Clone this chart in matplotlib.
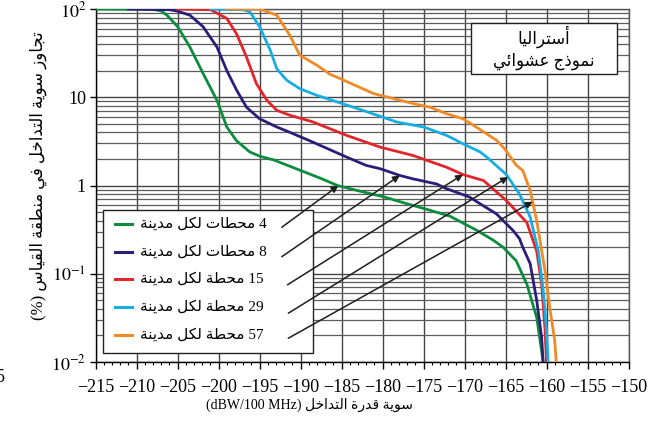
import re
import numpy as np
import matplotlib
matplotlib.use('Agg')
import matplotlib.pyplot as plt
from matplotlib.patches import Rectangle
from matplotlib.ticker import FixedLocator, FixedFormatter, MultipleLocator, LogLocator, NullFormatter

plt.rcParams['font.family'] = ['Liberation Serif', 'DejaVu Sans']
plt.rcParams['mathtext.fontset'] = 'stix'

# interference curves, one per number of stations in a city
x_4 = [-215, -208, -207, -206.3, -205, -203.5, -201.9, -200.2, -199, -197.8, -196.2, -195, -193.3,
       -191.3, -189.5, -187.5, -185.5, -182.5, -180, -177.5, -175, -171.8, -168.5, -166.5, -165.3,
       -163.7, -162.4, -161.2, -160.6, -160.4]
y_4 = [100, 99, 95, 85, 63, 37, 18.6, 9.2, 4.6, 3.2, 2.4, 2.15, 1.95, 1.65, 1.42, 1.2, 1.0, 0.85,
       0.75, 0.64, 0.55, 0.45, 0.31, 0.24, 0.2, 0.14, 0.076, 0.032, 0.0133, 0.0095]

x_8 = [-211, -206, -205.1, -203.5, -201.9, -200.2, -199, -197.8, -196.6, -195, -192.9, -191.3,
       -188.5, -184.4, -182, -180.3, -177.9, -176.3, -173.4, -172.2, -169.4, -168.1, -166.1,
       -164.1, -163.3, -162.9, -162, -161.2, -160.6, -160.4]
y_8 = [100, 98, 95, 85, 63, 37, 20, 12, 7.7, 5.7, 4.6, 4.0, 3.1, 2.1, 1.69, 1.55, 1.30, 1.19, 1.04,
       0.92, 0.74, 0.62, 0.476, 0.31, 0.25, 0.2, 0.13, 0.05, 0.019, 0.0095]

x_15 = [-205, -201, -200.7, -199, -197.8, -196.6, -195.4, -194.1, -192.9, -191.3, -188.5, -184.4,
        -180.3, -176.3, -172.2, -170.2, -167.7, -164.9, -162.4, -161.2, -160.6, -160.2, -160.0]
y_15 = [100, 98, 95, 78, 52, 28.5, 14.3, 9.2, 7.1, 6.25, 5.25, 3.7, 2.72, 2.19, 1.61, 1.33, 1.14,
        0.675, 0.38, 0.18, 0.076, 0.0245, 0.0095]

x_29 = [-201, -197, -196.2, -195, -193.7, -192.9, -191.7, -190.1, -188, -186.4, -182.4, -178.3,
        -175, -172.2, -170.2, -168.1, -167.3, -164.9, -163.3, -162, -161, -160.4, -160, -159.8]
y_29 = [100, 98, 93, 63, 34, 21, 15.6, 12.5, 10.5, 9.4, 7.1, 5.25, 4.6, 3.7, 2.97, 2.4, 2.1, 1.33,
        0.8, 0.44, 0.18, 0.064, 0.0226, 0.0095]

x_57 = [-199, -195, -194.6, -192.9, -191.3, -190.1, -188, -186.4, -185.2, -181.1, -176.3, -174.2,
        -172.2, -170.2, -168.1, -166.1, -165.1, -163.7, -162.9, -162, -161.2, -160.2, -159.6,
        -159, -158.8]
y_57 = [100, 99, 97, 85, 50, 30, 23, 18.2, 16.3, 11, 8.5, 7.7, 6.5, 5.7, 4.3, 3.25, 2.6, 1.7, 1.48,
        0.88, 0.4, 0.11, 0.041, 0.0174, 0.0095]

series_x = [x_4, x_8, x_15, x_29, x_57]
series_y = [y_4, y_8, y_15, y_29, y_57]
colors = ['#0b8c3e', '#2b1d78', '#e2252b', '#16ade2', '#f08a26']
labels = ['4 محطات لكل مدينة', '8 محطات لكل مدينة', '15 محطة لكل مدينة',
          '29 محطة لكل مدينة', '57 محطة لكل مدينة']

# arrows from the legend rows to the curves
arrow_tail_x = [-192.3, -192.3, -191.6, -191.5, -191.5]
arrow_tail_y = [0.336, 0.156, 0.075, 0.0357, 0.0186]
arrow_head_x = [-185.4, -177.9, -170.2, -164.7, -161.7]

x_ticks = list(range(-215, -149, 5))
y_ticks = [0.01, 0.1, 1, 10, 100]
y_tick_labels = ['$10^{-2}$', '$10^{-1}$', '1', '10', '$10^{2}$']

title_lines = ['أستراليا', 'نموذج عشوائي']
x_title = 'سوية قدرة التداخل (dBW/100 MHz)'
y_title = 'تجاوز سوية التداخل في منطقة القياس (%)'

# --- arabic shaping (presentation forms) and right-to-left ordering ---
ISOLATED = {'ا': 0xFE8D, 'أ': 0xFE83, 'ئ': 0xFE89, 'ت': 0xFE95, 'ة': 0xFE93, 'ج': 0xFE9D,
            'ح': 0xFEA1, 'خ': 0xFEA5, 'د': 0xFEA9, 'ذ': 0xFEAB, 'ر': 0xFEAD, 'ز': 0xFEAF,
            'س': 0xFEB1, 'ش': 0xFEB5, 'ط': 0xFEC1, 'ع': 0xFEC9, 'ف': 0xFED1, 'ق': 0xFED5,
            'ك': 0xFED9, 'ل': 0xFEDD, 'م': 0xFEE1, 'ن': 0xFEE5, 'و': 0xFEED, 'ي': 0xFEF1}
RIGHT_JOINING = set('اأدذرزوة')


def shape(text):
    out = []
    for i, ch in enumerate(text):
        if ch not in ISOLATED:
            out.append(ch)
            continue
        prev = text[i - 1] if i > 0 else ''
        nxt = text[i + 1] if i + 1 < len(text) else ''
        join_prev = prev in ISOLATED and prev not in RIGHT_JOINING
        join_next = nxt in ISOLATED and ch not in RIGHT_JOINING
        if join_prev and join_next:
            off = 3
        elif join_prev:
            off = 1
        elif join_next:
            off = 2
        else:
            off = 0
        out.append(chr(ISOLATED[ch] + off))
    return ''.join(out)


AR = '\u0600-\u06FF'
TOKEN = re.compile('[%s]+(?:\\s+[%s]+)*|\\s+|[^\\s%s]+(?:\\s+[^\\s%s]+)*' % (AR, AR, AR, AR))


def rtl(text):
    parts = []
    for tok in reversed(TOKEN.findall(text)):
        if re.match('[%s]' % AR, tok):
            parts.append(shape(tok)[::-1])
        else:
            parts.append(tok)
    return ''.join(parts)


AR_FONT = ['Liberation Serif', 'DejaVu Sans']

###############################################################################

fig = plt.figure(figsize=(6.63, 4.24), dpi=100)
ax = fig.add_axes([0.1443, 0.1462, 0.8037, 0.8326])

for xs, ys, c in zip(series_x, series_y, colors):
    ax.plot(xs, ys, color=c, lw=2.0, zorder=3, solid_joinstyle='round')

ax.set_yscale('log')
ax.set_xlim(-215, -150)
ax.set_ylim(0.01, 100)

ax.xaxis.set_major_locator(FixedLocator(x_ticks))
ax.xaxis.set_minor_locator(MultipleLocator(1))
ax.yaxis.set_major_locator(FixedLocator(y_ticks))
ax.yaxis.set_major_formatter(FixedFormatter(y_tick_labels))
ax.yaxis.set_minor_locator(LogLocator(base=10, subs=np.arange(2, 10)))
ax.yaxis.set_minor_formatter(NullFormatter())

ax.tick_params(axis='x', which='major', direction='out', length=5, width=1, pad=7, labelsize=13)
ax.tick_params(axis='x', which='minor', direction='out', length=2.5, width=0.8)
ax.tick_params(axis='y', which='major', direction='out', length=4, width=1, pad=3, labelsize=13)
ax.tick_params(axis='y', which='minor', length=0)

ax.xaxis.grid(True, which='major', color='#454545', lw=1.0)
ax.yaxis.grid(True, which='major', color='#454545', lw=1.0)
ax.yaxis.grid(True, which='minor', color='#5c5c5c', lw=0.9)
ax.set_axisbelow(True)

for side in ['left', 'bottom']:
    ax.spines[side].set_color('black')
    ax.spines[side].set_linewidth(1.0)
for side in ['top', 'right']:
    ax.spines[side].set_color('#555555')
    ax.spines[side].set_linewidth(1.0)

# legend box drawn by hand so the arrows can leave from inside it
ax.add_patch(Rectangle((0.0143, 0.0246), 0.3937, 0.406, transform=ax.transAxes,
                       facecolor='white', edgecolor='#222222', lw=1.0, zorder=5))
row_y = [0.392, 0.313, 0.234, 0.155, 0.076]
for yy, c, lab in zip(row_y, colors, labels):
    ax.plot([0.0364, 0.0677], [yy, yy], color=c, lw=2.2, transform=ax.transAxes, zorder=6)
    ax.text(0.083, yy, rtl(lab), transform=ax.transAxes, ha='left', va='center',
            fontsize=11, family=AR_FONT, zorder=6)

for tx, ty, hx, xs, ys in zip(arrow_tail_x, arrow_tail_y, arrow_head_x, series_x, series_y):
    hy = 10 ** np.interp(hx, xs, np.log10(ys))
    ax.annotate('', xy=(hx, hy), xytext=(tx, ty), zorder=7,
                arrowprops=dict(arrowstyle='-|>', color='#1e1e1e', lw=1.1,
                                mutation_scale=10, shrinkA=0, shrinkB=0))

# country / model box
ax.add_patch(Rectangle((0.7036, 0.8159), 0.275, 0.1453, transform=ax.transAxes,
                       facecolor='white', edgecolor='#222222', lw=1.0, zorder=5))
ax.text(0.841, 0.921, rtl(title_lines[0]), transform=ax.transAxes, ha='center', va='center',
        fontsize=12, family=AR_FONT, zorder=6)
ax.text(0.841, 0.852, rtl(title_lines[1]), transform=ax.transAxes, ha='center', va='center',
        fontsize=12, family=AR_FONT, zorder=6)

fig.text(309 / 663, 1 - 405 / 424, rtl(x_title), ha='center', va='center',
         fontsize=10, family=AR_FONT)
fig.text(38 / 663, 1 - 176 / 424, rtl(y_title), ha='center', va='center', rotation=90,
         fontsize=12, family=AR_FONT)
fig.text(5 / 663, 1 - 377 / 424, '5', ha='right', va='center', fontsize=13)

fig.savefig('out.png', dpi=100)
